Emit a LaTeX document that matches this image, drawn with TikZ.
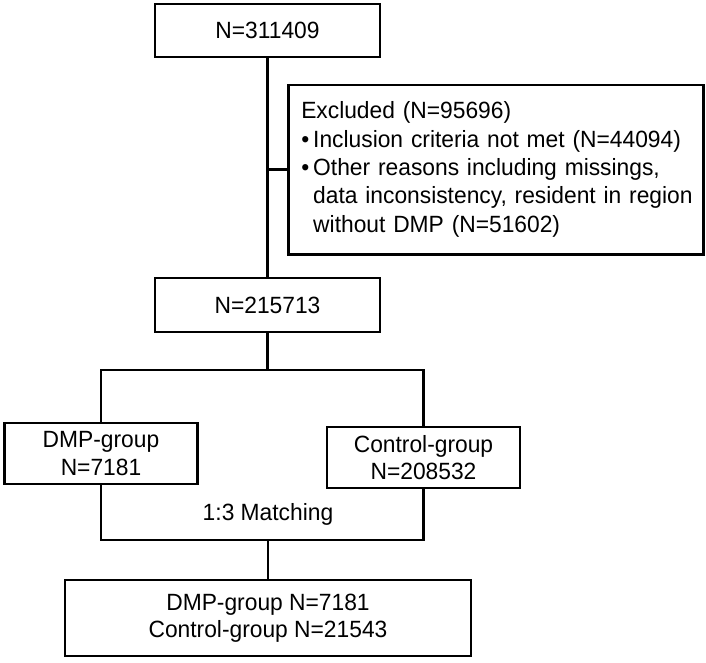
\documentclass[tikz,border=0pt]{standalone}
\usepackage{fontspec}
\setmainfont[FakeStretch=0.97]{Liberation Sans}
\begin{document}
\begin{tikzpicture}[x=1pt,y=-1pt,
  box/.style={draw=black,line width=2.5pt,rectangle,inner sep=0pt,align=center,
    font=\fontsize{23.5}{27.5}\selectfont},
  conn/.style={draw=black,line width=2.5pt},
  lbl/.style={font=\fontsize{23.5}{27.5}\selectfont,inner sep=0pt}]
\useasboundingbox[fill=white] (0,0) rectangle (706,663);
\node[box,minimum width=225,minimum height=53] (top) at (267.5,30.5) {N=311409};
\node[box,anchor=north west,minimum width=415,minimum height=169,text width=389,
      inner xsep=13pt,align=left,font=\fontsize{23.5}{28.3}\selectfont] (excl) at (287,84)
  {\begin{tabular}{@{}l@{\hspace{4pt}}l@{}}
   \multicolumn{2}{@{}l@{}}{Excluded (N=95696)}\\
   \textbullet & Inclusion criteria not met (N=44094)\\
   \textbullet & Other reasons including missings,\\
    & data inconsistency, resident in region\\
    & without DMP (N=51602)
   \end{tabular}};
\node[box,minimum width=225,minimum height=54] (n2) at (267.5,305) {N=215713};
\node[box,minimum width=193,minimum height=61] (dmp) at (101,453.5) {DMP-group\\N=7181};
\node[box,minimum width=193,minimum height=61] (ctl) at (423.5,457.5) {Control-group\\N=208532};
\node[lbl] (match) at (268,514) {1:3 Matching};
\node[box,minimum width=406,minimum height=76] (final) at (268,618) {DMP-group N=7181\\Control-group N=21543};
\coordinate (split) at (267.5,370);
\coordinate (mrg) at (268,540);
\draw[conn] (top.south) -- (n2.north);
\draw[conn] (top.south |- excl.west) -- (excl.west);
\draw[conn] (n2.south) -- (split);
\draw[conn] (dmp.north) |- (split) -| (ctl.north);
\draw[conn] (dmp.south) |- (mrg) -| (ctl.south);
\draw[conn] (mrg) -- (final.north);
\end{tikzpicture}
\end{document}
